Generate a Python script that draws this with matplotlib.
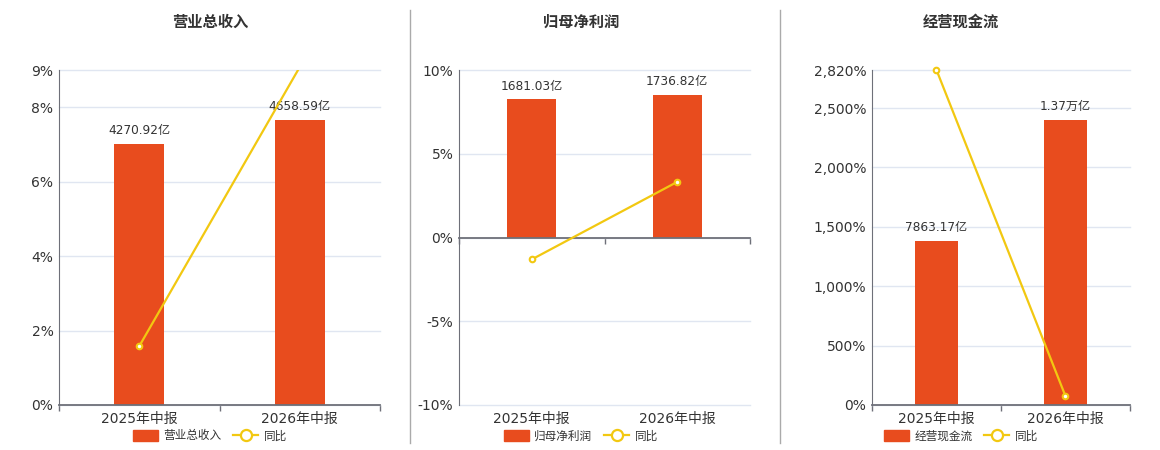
import numpy as np
import matplotlib
matplotlib.use("Agg")
import matplotlib.pyplot as plt
from matplotlib.lines import Line2D
from matplotlib.patches import Patch

plt.rcParams['font.family'] = ['DejaVu Sans', 'Noto Sans CJK SC']

# data
categories = ['2025年中报', '2026年中报']

revenue = [4270.92, 4658.59]
revenue_labels = ['4270.92亿', '4658.59亿']
revenue_yoy = [1.58, 9.08]

profit = [1681.03, 1736.82]
profit_labels = ['1681.03亿', '1736.82亿']
profit_yoy = [-1.31, 3.32]

cashflow = [7863.17, 13700.0]
cashflow_labels = ['7863.17亿', '1.37万亿']
cashflow_yoy = [2820.0, 74.2]

BAR = '#E84C1E'
LINE = '#F2C811'
GRID = '#E0E6F1'
AXIS = '#6E7079'
TEXT = '#333333'

W, H = 1160, 450
fig = plt.figure(figsize=(W / 100, H / 100), dpi=100)


def px_rect(left, right, top, bottom):
    return [left / W, 1 - bottom / H, (right - left) / W, (bottom - top) / H]


def panel(rect, title, title_x, name, values, labels, yoy,
          pct_lim, pct_ticks, pct_fmt, bar_lim, bar_width):
    ax = fig.add_axes(rect)
    x = np.arange(len(categories))
    ax.bar(x, values, width=bar_width, color=BAR, zorder=2)
    ax.set_xlim(-0.5, len(categories) - 0.5)
    ax.set_ylim(*bar_lim)

    # grid lines drawn on the bar axes at the positions of the percent ticks
    p0, p1 = pct_lim
    b0, b1 = bar_lim
    gticks = [b0 + (t - p0) * (b1 - b0) / (p1 - p0) for t in pct_ticks]
    ax.set_yticks(gticks)
    ax.set_yticklabels([])
    ax.tick_params(axis='y', length=0)
    ax.grid(axis='y', color=GRID, lw=1)
    for gl in ax.get_ygridlines():
        gl.set_clip_on(False)
    ax.set_axisbelow(True)

    for s in ['top', 'right', 'left']:
        ax.spines[s].set_visible(False)
    ax.spines['bottom'].set_color(AXIS)
    ax.spines['bottom'].set_linewidth(1.3)
    ax.spines['bottom'].set_zorder(3)
    if b0 < 0:
        ax.spines['bottom'].set_position(('data', 0))

    ax.set_xticks([])
    ax.set_xticks(np.arange(len(categories) + 1) - 0.5, minor=True)
    ax.tick_params(axis='x', which='minor', length=4, color=AXIS, width=1)
    for i, c in enumerate(categories):
        ax.text(i, -0.022, c, transform=ax.get_xaxis_transform(),
                ha='center', va='top', fontsize=10, color=TEXT)

    for i, (v, lab) in enumerate(zip(values, labels)):
        ax.annotate(lab, (i, v), xytext=(0, 5), textcoords='offset points',
                    ha='center', va='bottom', fontsize=8.7, color=TEXT)

    axl = ax.twinx()
    axl.plot(x, yoy, color=LINE, lw=1.6)
    yoy_arr = np.array(yoy)
    inside = (yoy_arr >= p0) & (yoy_arr <= p1)
    axl.plot(x[inside], yoy_arr[inside], linestyle='none', marker='o',
             markersize=4, markerfacecolor='white', markeredgecolor=LINE,
             markeredgewidth=1.5, clip_on=False)
    axl.set_ylim(*pct_lim)
    axl.yaxis.tick_left()
    axl.set_yticks(pct_ticks)
    axl.set_yticklabels([pct_fmt(t) for t in pct_ticks])
    axl.tick_params(axis='y', length=0, pad=4, labelsize=10, labelcolor=TEXT)
    for s in ['top', 'right', 'bottom']:
        axl.spines[s].set_visible(False)
    axl.spines['left'].set_color(AXIS)

    fig.text(title_x / W, 1 - 22 / H, title, ha='center', va='center',
             fontsize=11, fontweight='bold', color=TEXT)

    handles = [Patch(facecolor=BAR, edgecolor=BAR),
               Line2D([], [], color=LINE, lw=1.6, marker='o', markersize=8,
                      markerfacecolor='white', markeredgecolor=LINE,
                      markeredgewidth=1.6)]
    fig.legend(handles, [name, '同比'], loc='center',
               bbox_to_anchor=(title_x / W, 1 - 436 / H), ncol=2,
               frameon=False, fontsize=8.4, handlelength=2.1,
               handleheight=1.1, handletextpad=0.5, columnspacing=1.0,
               labelcolor=TEXT)


panel(px_rect(59, 380, 70, 405), '营业总收入', 210, '营业总收入',
      revenue, revenue_labels, revenue_yoy,
      (0, 9), [0, 2, 4, 6, 8, 9], lambda t: f'{t:g}%', (0, 5483), 0.31)

panel(px_rect(459, 750, 70, 405), '归母净利润', 581, '归母净利润',
      profit, profit_labels, profit_yoy,
      (-10, 10), [-10, -5, 0, 5, 10], lambda t: f'{t:g}%', (-2040, 2040), 0.34)

panel(px_rect(872, 1130, 70, 405), '经营现金流', 961, '经营现金流',
      cashflow, cashflow_labels, cashflow_yoy,
      (0, 2820), [0, 500, 1000, 1500, 2000, 2500, 2820],
      lambda t: f'{t:,.0f}%', (0, 16100), 0.34)

# vertical separators between the panels
for sx in [410, 780]:
    fig.add_artist(Line2D([sx / W, sx / W], [1 - 10 / H, 1 - 443 / H],
                          color='#AAAAAA', lw=1, transform=fig.transFigure))

fig.savefig('out.png', dpi=100)
